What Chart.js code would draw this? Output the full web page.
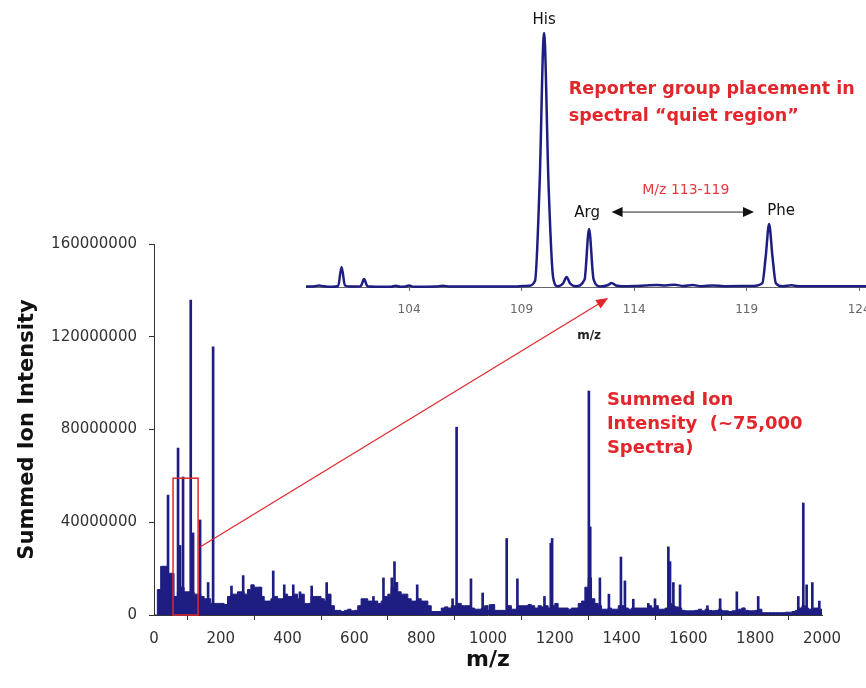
<!DOCTYPE html>
<html>
<head>
<meta charset="utf-8">
<script src="https://cdn.jsdelivr.net/npm/chart.js@4.4.1/dist/chart.umd.min.js"></script>
<style>
  html, body { margin: 0; padding: 0; background: #fff; overflow: hidden; }
  #wrap { position: relative; width: 866px; height: 688px; overflow: hidden; }
  #spectrum { position: absolute; left: 0; top: 0; }
  #inset { position: absolute; left: 296px; top: 0; }
</style>
</head>
<body>
<div id="wrap">
  <canvas id="spectrum" width="866" height="688"></canvas>
  <canvas id="inset" width="600" height="345"></canvas>
</div>
<script>
// summed spectrum, intensity in millions, baseline sampled every 10 m/z
const noiseStep = 10;
const noiseLevel = [
  0, 11, 21, 21, 18, 18, 8, 10, 12, 10,
  10, 10, 9, 9, 8, 7, 7, 5, 5, 5,
  5, 4.5, 8, 9, 9, 10, 10, 9, 11, 13,
  12, 12, 8, 6, 6, 7, 8, 7, 7, 9,
  8, 8, 9, 7, 9, 5, 5, 8, 8, 8,
  7, 6, 9, 4, 2, 2, 1.5, 2, 2.5, 1.8,
  2, 4, 7, 7, 6, 6, 6, 5, 6, 8,
  9, 12, 14, 10, 9, 9, 7, 6, 6, 7,
  6, 6, 4, 1.5, 1.5, 1.5, 3, 3.5, 3, 4,
  4, 5, 4, 4, 4, 3, 2.5, 2.5, 3, 4,
  2, 4.5, 2, 2, 2, 2, 4, 2.5, 2.5, 4,
  4, 4, 4.5, 4, 3, 4, 3.5, 4, 3, 4,
  5, 3, 3, 3, 2.5, 3, 3, 5, 6, 12,
  16, 7, 5, 4, 2.5, 2.5, 3, 2.5, 2.5, 4,
  4, 3, 2.5, 3, 3, 3, 3, 3, 4, 3,
  4, 2.5, 2.5, 3, 5, 4, 3.5, 3, 2, 1.8,
  1.8, 1.8, 2, 2.5, 1.8, 2.5, 2, 1.8, 2, 2.5,
  1.8, 1.8, 1.5, 1.8, 2, 2.5, 3, 2, 1.8, 1.8,
  2, 2.5, 1, 1, 1, 1, 1, 1, 1, 1.2,
  1.2, 1.5, 2, 3, 4, 3, 2.5, 3, 3, 2.5,
  0
];
// isolated peaks (m/z, millions)
const peakMz = [42, 72, 78, 87, 110, 117, 138, 162, 177, 232, 267, 320, 357, 390, 417, 437, 472, 517,
  657, 687, 712, 720, 788, 894, 906, 949, 984, 1006, 1056, 1088, 1169, 1188, 1192, 1302, 1306,
  1335, 1362, 1398, 1410, 1435, 1480, 1500, 1540, 1545, 1555, 1575, 1657, 1695, 1745, 1765,
  1809, 1929, 1944, 1954, 1971, 1992];
const peakHeight = [51.7, 72, 30, 59.5, 135.8, 35.4, 41, 14, 115.6, 12.5, 17, 12, 19, 13, 13, 10, 12.5, 14,
  8, 16, 16, 23, 13, 7, 81, 15.6, 9.5, 4.5, 33, 15.6, 8, 31, 33, 96.6, 38,
  16, 9, 25, 14.7, 6.8, 5, 7, 29.4, 23, 14, 13, 4, 7, 10, 3,
  8, 8, 48.3, 13, 14, 6];
const yTicks = [0, 40, 80, 120, 160];
const boxMz = [57, 132];
const boxTop = 59;
const noteLines = ['Summed Ion', 'Intensity  (~75,000', 'Spectra)'];

// zoom on the reporter region, relative intensity (His = 100)
const insetMz = [99.42, 99.8, 100.0, 100.2, 100.6, 100.85, 101.0, 101.15, 101.4, 101.85, 102.0, 102.15, 102.5,
  103.2, 103.4, 103.6, 103.85, 104.0, 104.2, 105.2, 105.5, 105.8, 108.8, 109.3, 109.6, 109.8, 110.0,
  110.2, 110.4, 110.6, 110.85, 111.0, 111.15, 111.4, 111.8, 112.0, 112.2, 112.5, 112.85, 113.0, 113.2,
  113.5, 114.0, 114.5, 115.0, 115.4, 115.8, 116.2, 116.6, 117.0, 117.5, 118.0, 119.3, 119.7, 119.85,
  120.0, 120.15, 120.3, 120.6, 121.0, 121.3, 125.64];
const insetIntensity = [0.2, 0.3, 0.6, 0.3, 0.1, 0.4, 7.9, 0.6, 0.2, 0.3, 3.1, 0.3, 0.1,
  0.1, 0.5, 0.1, 0.2, 0.6, 0.1, 0.2, 0.5, 0.2, 0.2, 0.5, 2.5, 40, 100,
  40, 4, 0.3, 1.5, 3.9, 1.5, 0.3, 3, 22.8, 3, 0.2, 0.8, 1.6, 0.6,
  0.3, 0.4, 0.6, 0.8, 0.6, 0.9, 0.4, 0.8, 0.3, 0.6, 0.3, 0.4, 1.5, 12,
  24.8, 12, 1.5, 0.3, 0.7, 0.3, 0.3];
const insetTicks = [104, 109, 114, 119, 124];
const aminoNames = ['His', 'Arg', 'Phe'];
const aminoMz = [110, 112, 120];
const quietRange = [113, 119];

const NAVY = '#1e1e82';
const RED = '#e2262b';
const FONT = "'DejaVu Sans', sans-serif";
Chart.defaults.font.family = FONT;

function arrowHead(ctx, x0, y0, x1, y1, len, half) {
  const a = Math.atan2(y1 - y0, x1 - x0);
  ctx.beginPath();
  ctx.moveTo(x1, y1);
  ctx.lineTo(x1 - len * Math.cos(a) + half * Math.sin(a), y1 - len * Math.sin(a) - half * Math.cos(a));
  ctx.lineTo(x1 - len * Math.cos(a) - half * Math.sin(a), y1 - len * Math.sin(a) + half * Math.cos(a));
  ctx.closePath();
  ctx.fill();
}

/**
 * Inset: labels, arrow and red note
 */
const insetOverlay = {
  id: 'insetOverlay',
  afterDraw(chart) {
    const {ctx, scales: {x, y}} = chart;
    ctx.save();
    ctx.textAlign = 'center';
    ctx.textBaseline = 'middle';
    ctx.fillStyle = '#111';
    ctx.font = '15px ' + FONT;
    const dx = [0, -2, 12], dy = [-13, -16, -13];
    aminoNames.forEach((name, i) => {
      const idx = insetMz.indexOf(aminoMz[i]);
      ctx.fillText(name, x.getPixelForValue(aminoMz[i]) + dx[i], y.getPixelForValue(insetIntensity[idx]) + dy[i]);
    });

    // double arrow over the quiet region
    const ax0 = x.getPixelForValue(quietRange[0]);
    const ax1 = x.getPixelForValue(quietRange[1] + 0.33);
    const ay = y.getPixelForValue(29.5);
    ctx.strokeStyle = '#222';
    ctx.lineWidth = 1;
    ctx.beginPath();
    ctx.moveTo(ax0 + 8, ay);
    ctx.lineTo(ax1 - 8, ay);
    ctx.stroke();
    ctx.fillStyle = '#111';
    arrowHead(ctx, ax1, ay, ax0, ay, 11, 5);
    arrowHead(ctx, ax0, ay, ax1, ay, 11, 5);

    ctx.fillStyle = '#e8393d';
    ctx.font = '14px ' + FONT;
    ctx.fillText('M/z ' + quietRange[0] + '-' + quietRange[1], x.getPixelForValue(116.3), y.getPixelForValue(38.2));

    ctx.fillStyle = RED;
    ctx.font = 'bold 17.5px ' + FONT;
    ctx.textAlign = 'left';
    ctx.fillText('Reporter group placement in', x.getPixelForValue(111.1), y.getPixelForValue(77.6));
    ctx.fillText('spectral \u201cquiet region\u201d', x.getPixelForValue(111.1), y.getPixelForValue(77.6) + 27);

    ctx.fillStyle = '#222';
    ctx.font = 'bold 12px ' + FONT;
    ctx.textAlign = 'center';
    ctx.fillText('m/z', x.getPixelForValue(112), y.getPixelForValue(0) + 49);
    ctx.restore();
  }
};

const insetChart = new Chart(document.getElementById('inset'), {
  type: 'line',
  data: {
    datasets: [{
      data: insetMz.map((m, i) => ({x: m, y: insetIntensity[i]})),
      borderColor: NAVY,
      borderWidth: 2.5,
      pointRadius: 0,
      cubicInterpolationMode: 'monotone',
      fill: false,
      clip: false
    }]
  },
  options: {
    responsive: false,
    animation: false,
    layout: { padding: { top: 5, left: 10, right: 0, bottom: 0 } },
    plugins: { legend: { display: false }, tooltip: { enabled: false } },
    scales: {
      x: {
        type: 'linear', min: 99.42, max: 125.64,
        afterBuildTicks(s) { s.ticks = insetTicks.map(v => ({value: v})); },
        ticks: { color: '#666', font: { size: 12 }, padding: 12, autoSkip: false, maxRotation: 0, callback: v => String(v) },
        grid: { drawOnChartArea: false, tickLength: 4, color: '#666' },
        border: { color: '#666' },
        afterFit(s) { s.height = 58; s.paddingLeft = 0; s.paddingRight = 0; }
      },
      y: { display: false, min: 0, max: 111 }
    }
  },
  plugins: [insetOverlay]
});

/**
 * Main spectrum: red box, arrow to inset, red note
 */
const mainOverlay = {
  id: 'mainOverlay',
  afterDatasetsDraw(chart) {
    const {ctx, scales: {x, y}} = chart;
    ctx.save();
    ctx.strokeStyle = RED;
    ctx.lineWidth = 1.5;
    const bx0 = x.getPixelForValue(boxMz[0]);
    const bx1 = x.getPixelForValue(boxMz[1]);
    const by0 = y.getPixelForValue(boxTop);
    const by1 = y.getPixelForValue(0);
    ctx.strokeRect(bx0, by0, bx1 - bx0, by1 - by0);

    const sx = x.getPixelForValue(138), sy = y.getPixelForValue(29.3);
    const ic = insetChart.canvas;
    const ex = insetChart.scales.x.getPixelForValue(112.85) + ic.offsetLeft;
    const ey = insetChart.scales.y.getPixelForValue(-4.3) + ic.offsetTop;
    ctx.lineWidth = 1.2;
    ctx.beginPath();
    ctx.moveTo(sx, sy);
    ctx.lineTo(ex - 8, ey + 5);
    ctx.stroke();
    ctx.fillStyle = RED;
    arrowHead(ctx, sx, sy, ex, ey, 12, 5);

    ctx.font = 'bold 18px ' + FONT;
    ctx.textAlign = 'left';
    ctx.textBaseline = 'middle';
    const tx = x.getPixelForValue(1356), ty = y.getPixelForValue(92.5);
    noteLines.forEach((t, i) => ctx.fillText(t, tx, ty + i * 24));
    ctx.restore();
  }
};

new Chart(document.getElementById('spectrum'), {
  type: 'line',
  data: {
    datasets: [
      {
        type: 'bar',
        data: peakMz.map((m, i) => ({x: m, y: peakHeight[i]})),
        backgroundColor: NAVY,
        borderWidth: 0,
        barThickness: 2
      },
      {
        type: 'line',
        data: noiseLevel.map((v, i) => ({x: i * noiseStep, y: v})),
        borderColor: NAVY,
        backgroundColor: NAVY,
        borderWidth: 1,
        fill: 'origin',
        stepped: true,
        pointRadius: 0
      }
    ]
  },
  options: {
    responsive: false,
    animation: false,
    layout: { padding: { top: 244, right: 44, left: 0, bottom: 0 } },
    plugins: { legend: { display: false }, tooltip: { enabled: false } },
    scales: {
      x: {
        type: 'linear', min: 0, max: 2000, offset: false,
        ticks: { stepSize: 200, color: '#333', font: { size: 15 }, padding: 10, maxRotation: 0, autoSkip: false, callback: v => String(v) },
        grid: { drawOnChartArea: false, tickLength: 5, color: '#333' },
        border: { color: '#333' },
        title: { display: true, text: 'm/z', color: '#111', font: { size: 22, weight: 'bold' }, padding: { top: 0, bottom: 15 } },
        afterFit(s) { s.height = 73; }
      },
      y: {
        type: 'linear', min: 0, max: 160,
        afterBuildTicks(s) { s.ticks = yTicks.map(v => ({value: v})); },
        ticks: { color: '#333', font: { size: 15 }, padding: 12, callback: v => String(v * 1000000) },
        grid: { drawOnChartArea: false, tickLength: 5, color: '#333' },
        border: { color: '#333' },
        title: { display: true, text: 'Summed Ion Intensity', color: '#111', font: { size: 21, weight: 'bold' }, padding: { top: 15, bottom: 0 } },
        afterFit(s) { s.width = 154; }
      }
    }
  },
  plugins: [mainOverlay]
});
</script>
</body>
</html>
